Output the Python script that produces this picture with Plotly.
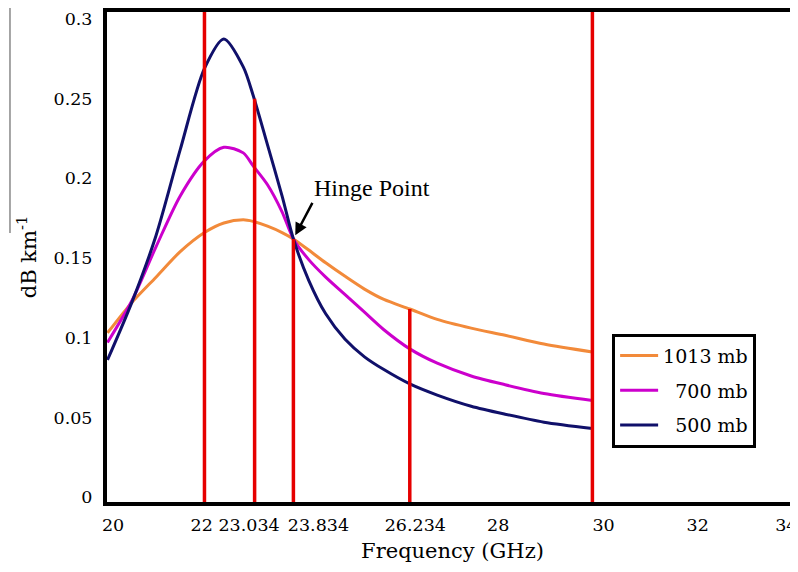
import plotly.graph_objects as go

# ---------------- data ----------------
freq_ghz = [20.0, 20.5, 21.0, 21.5, 22.0, 22.4, 22.8, 23.0, 23.3, 23.6, 23.834,
            24.15, 24.5, 24.9, 25.3, 25.7, 26.234, 26.8, 27.5, 28.2, 29.0, 30.0]

att_1013mb = [0.103, 0.122, 0.138, 0.154, 0.166, 0.172, 0.174, 0.173, 0.170, 0.166, 0.162,
              0.155, 0.147, 0.1385, 0.1305, 0.124, 0.118, 0.1115, 0.106, 0.1015, 0.096, 0.091]
att_700mb = [0.097, 0.123, 0.157, 0.189, 0.211, 0.2195, 0.216, 0.208, 0.196, 0.179, 0.162,
             0.149, 0.138, 0.127, 0.116, 0.105, 0.093, 0.084, 0.076, 0.0705, 0.065, 0.0606]
att_500mb = [0.086, 0.122, 0.164, 0.218, 0.269, 0.2875, 0.270, 0.2525, 0.221, 0.189, 0.162,
             0.136, 0.115, 0.099, 0.088, 0.080, 0.071, 0.064, 0.057, 0.052, 0.047, 0.043]

series_names = ["1013 mb", "700 mb", "500 mb"]

# vertical reference frequencies and the height where each line stops
marker_freqs = [22.0, 23.034, 23.834, 26.234, 30.0]
marker_tops = [None, 0.25, 0.162, 0.118, None]   # None -> to top of plot

hinge_freq = 23.834
hinge_value = 0.162

x_tick_vals = [20, 22, 23.034, 23.834, 26.234, 28, 30, 32, 34]
x_tick_labels = ["20", "22", "23.034", "23.834", "26.234", "28", "30", "32", "34"]
y_tick_vals = [0, 0.05, 0.1, 0.15, 0.2, 0.25, 0.3]
y_tick_labels = ["0", "0.05", "0.1", "0.15", "0.2", "0.25", "0.3"]

# ---------------- styling ----------------
Y_MIN, Y_MAX = -0.0031, 0.3044
X_MIN, X_MAX = 19.99, 34.24
colors = ["#f28a3a", "#cc00cc", "#10106a"]
NB = "\u00a0"
# visual nudges for tick labels (leading, trailing non-breaking spaces)
tick_pad = [(2, 0), (0, 1), (0, 2), (9, 0), (2, 0), (1, 0), (4, 0), (3, 0), (0, 0)]
legend_pad = [0, 2, 2]
AXFONT = "DejaVu Serif"

fig = go.Figure()

for i, (name, vals, col, pad) in enumerate(zip(series_names, [att_1013mb, att_700mb, att_500mb],
                                               colors, legend_pad)):
    fig.add_trace(go.Scatter(
        x=freq_ghz, y=vals, mode="lines", name=NB * pad + name,
        legendgroup=f"g{i}",
        line=dict(color=col, width=3, shape="spline", smoothing=0.8),
        hoverinfo="skip"))

for f, top in zip(marker_freqs, marker_tops):
    fig.add_trace(go.Scatter(
        x=[f, f], y=[Y_MIN, Y_MAX if top is None else top], mode="lines",
        line=dict(color="#e60000", width=3.5), showlegend=False, hoverinfo="skip"))

fig.add_annotation(
    x=hinge_freq, y=hinge_value, xref="x", yref="y",
    text="Hinge Point", showarrow=True, ax=19, ay=-36,
    xanchor="left", yanchor="bottom",
    arrowhead=2, arrowsize=1, arrowwidth=2.5, arrowcolor="black", standoff=4,
    font=dict(family="Liberation Serif", size=24, color="black"))

# faint artifact line at far left
fig.add_shape(type="line", xref="paper", yref="paper",
              x0=-0.1404, x1=-0.1404, y0=0.549, y1=1.03,
              line=dict(color="#888888", width=1.5))

# page body has an 8px margin; the figure is drawn 8px smaller to fill the window
fig.update_layout(
    width=790, height=564,
    margin=dict(l=99, r=0, t=2, b=70),
    paper_bgcolor="white", plot_bgcolor="white",
    font=dict(family=AXFONT, color="black"),
    showlegend=True,
    legend=dict(x=0.731, y=0.3435, xanchor="left", yanchor="top",
                bgcolor="white", bordercolor="black", borderwidth=3,
                font=dict(family=AXFONT, size=19, color="black"),
                traceorder="grouped", tracegroupgap=7, itemwidth=38),
    xaxis=dict(
        range=[X_MIN, X_MAX], showgrid=False, zeroline=False,
        showline=True, linewidth=4, linecolor="black", mirror=True,
        ticks="", tickvals=x_tick_vals,
        ticktext=[NB * a + t + NB * b for t, (a, b) in zip(x_tick_labels, tick_pad)],
        tickangle=0, ticklabelstandoff=4, ticklabeloverflow="allow",
        tickfont=dict(family=AXFONT, size=17.5, color="black"),
        title=dict(text="Frequency (GHz)", standoff=10,
                   font=dict(family=AXFONT, size=21, color="black"))),
    yaxis=dict(
        range=[Y_MIN, Y_MAX], showgrid=False, zeroline=False,
        showline=True, linewidth=4, linecolor="black", mirror=False,
        ticks="", tickvals=y_tick_vals, ticktext=y_tick_labels,
        ticklabelstandoff=7,
        tickfont=dict(family=AXFONT, size=17.5, color="black"),
        title=dict(text="dB km<sup>-1</sup>", standoff=12,
                   font=dict(family=AXFONT, size=21, color="black"))),
)

fig.write_html("out.html")
